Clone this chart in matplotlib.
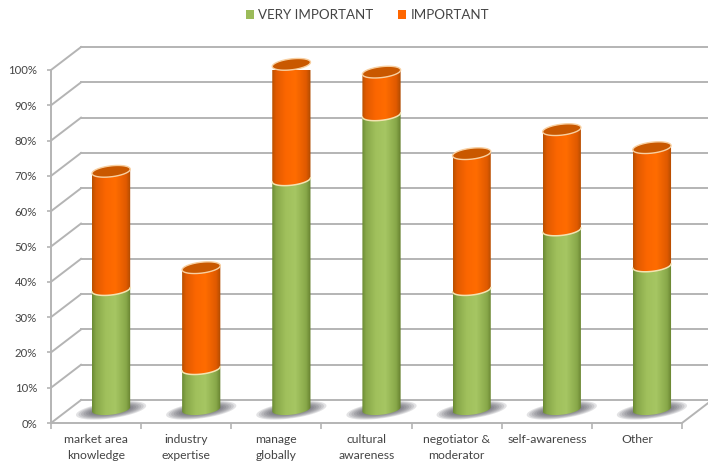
import numpy as np
import matplotlib
matplotlib.use('Agg')
import matplotlib.pyplot as plt
from matplotlib.colors import LinearSegmentedColormap
from matplotlib.patches import Polygon, Patch

plt.rcParams['font.family'] = ['Lato', 'DejaVu Sans']

categories = ['market area\nknowledge', 'industry\nexpertise', 'manage\nglobally', 'cultural\nawareness',
              'negotiator &\nmoderator', 'self-awareness', 'Other']
very_important = [33.9, 11.5, 65.0, 83.4, 33.9, 50.8, 40.6]
important = [33.5, 28.6, 32.7, 12.1, 38.5, 28.4, 33.5]
y_ticks = [0, 10, 20, 30, 40, 50, 60, 70, 80, 90, 100]

GREEN = '#9bbb59'
ORANGE = '#ff6600'
GRID = '#b4b4b4'
TEXT = '#444444'

# depth of the fake 3d box, in data units
depth_x = 0.333
depth_y = 6.5
half_w = 0.212
ell_b = 1.55
ell_tilt = 0.6

green_cmap = LinearSegmentedColormap.from_list(
    'g', [(0, '#6b8a34'), (0.1, '#87a748'), (0.35, '#a0c05c'), (0.6, '#a6c663'), (0.88, '#88a849'), (1, '#647f2e')])
orange_cmap = LinearSegmentedColormap.from_list(
    'o', [(0, '#b85000'), (0.1, '#e05a00'), (0.35, '#fb6600'), (0.6, '#ff6c00'), (0.88, '#e05a00'), (1, '#ad4a00')])

fig = plt.figure(figsize=(7.08, 4.63), dpi=100)
ax = fig.add_axes([51 / 708, 40 / 463, 631 / 708, 353 / 463])
ax.set_xlim(0, 7)
ax.set_ylim(0, 100)


def ellipse(xc, yc, t):
    return xc + half_w * np.cos(t), yc + ell_b * np.sin(t) + ell_tilt * np.cos(t)


def segment(xc, y0, y1, cmap, edge=True):
    # body of one cylinder piece, front arc at bottom and top
    t = np.linspace(np.pi, 2 * np.pi, 40)
    xb, yb = ellipse(xc, y0, t)
    xt, yt = ellipse(xc, y1, t)
    pts = np.column_stack([np.r_[xb, xt[::-1]], np.r_[yb, yt[::-1]]])
    poly = Polygon(pts, closed=True, fc='none', ec='none', transform=ax.transData, clip_on=False)
    ax.add_patch(poly)
    im = ax.imshow(np.linspace(0, 1, 128).reshape(1, -1), cmap=cmap, aspect='auto', zorder=4,
                   extent=[xc - half_w, xc + half_w, y0 - 3, y1 + 3], interpolation='bilinear')
    im.set_clip_path(poly)
    if edge:
        ax.plot(xt, yt, color='#f3e3b0', lw=1.1, zorder=5, clip_on=False, solid_capstyle='round')


# gridlines on the back wall and the side wall
for v in y_ticks:
    ax.plot([depth_x, 7 + depth_x], [v + depth_y, v + depth_y], color=GRID, lw=1.4, zorder=1, clip_on=False)
    ax.plot([0, depth_x], [v, v + depth_y], color=GRID, lw=1.4, zorder=1, clip_on=False)
ax.plot([7, 7 + depth_x], [0, depth_y], color=GRID, lw=1.4, zorder=1, clip_on=False)

floor = 3.9
for i in range(len(categories)):
    xc = i + 0.5 + depth_x / 2
    mid = floor + very_important[i]
    top = mid + important[i]

    # soft floor shadow
    for k in range(8):
        w = 0.39 - k * 0.028
        h = 2.3 - k * 0.2
        t = np.linspace(0, 2 * np.pi, 50)
        ax.fill(xc + w * np.cos(t), floor - 0.3 + h * np.sin(t) + 1.3 * (w / 0.39) * np.cos(t), color='#55555f',
                alpha=0.17, lw=0, zorder=2, clip_on=False)

    segment(xc, floor, mid, green_cmap)
    segment(xc, mid, top, orange_cmap, edge=False)

    # open top of the cylinder
    t = np.linspace(0, 2 * np.pi, 80)
    xe, ye = ellipse(xc, top, t)
    ax.fill(xe, ye, fc='#c95800', ec='#f8cfa0', lw=1.0, zorder=6, clip_on=False)

for s in ['top', 'right']:
    ax.spines[s].set_visible(False)
for s in ['left', 'bottom']:
    ax.spines[s].set_color(GRID)
    ax.spines[s].set_linewidth(1.4)

ax.set_yticks(y_ticks)
ax.set_yticklabels(['%d%%' % v for v in y_ticks])
ax.set_xticks(range(8))
ax.set_xticklabels([])
ax.set_xticks(np.arange(7) + 0.5, minor=True)
ax.set_xticklabels(categories, minor=True, linespacing=1.55)
ax.tick_params(axis='y', length=3, width=1.2, color=GRID, labelcolor=TEXT, labelsize=8.2, pad=7)
ax.tick_params(axis='x', which='major', length=4, width=1.2, color=GRID)
ax.tick_params(axis='x', which='minor', length=0, labelcolor=TEXT, labelsize=8.7, pad=8)

handles = [Patch(fc=GREEN, label='VERY IMPORTANT'), Patch(fc=ORANGE, label='IMPORTANT')]
leg = fig.legend(handles=handles, loc='center', bbox_to_anchor=(367.5 / 708, 1 - 15 / 463), ncol=2, frameon=False,
                 fontsize=9.6, handlelength=0.6, handleheight=0.6, handletextpad=0.35, columnspacing=1.85,
                 labelcolor=TEXT)

fig.savefig('out.png', dpi=100)
